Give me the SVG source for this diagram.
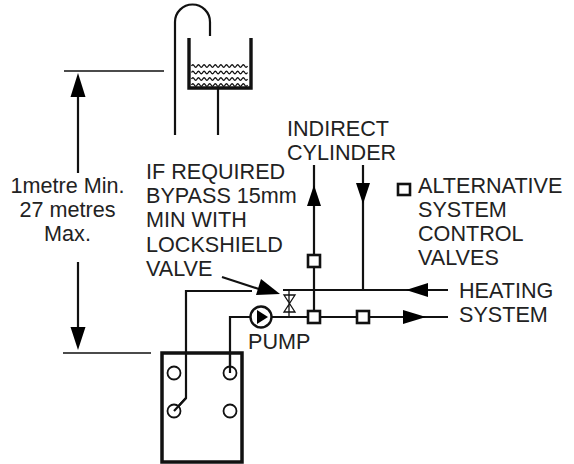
<svg xmlns="http://www.w3.org/2000/svg" width="574" height="464" viewBox="0 0 574 464">
<style>
.l{fill:none;stroke:#111;stroke-width:2.200}
.t{fill:none;stroke:#111;stroke-width:1.300}
.h{fill:#000;stroke:none}
.b{fill:#fff;stroke:#111;stroke-width:2.600}
.c{fill:#fff;stroke:#111;stroke-width:1.800}
.w{fill:none;stroke:#111;stroke-width:1.300}
text{font-family:"Liberation Sans",Arial,sans-serif;font-size:21.600px;fill:#222}
</style>
<defs>
<path id="wave" d="M0 0q1.400 -2.500 2.800 0t2.800 0t2.800 0t2.800 0t2.800 0t2.800 0t2.800 0t2.800 0t2.800 0t2.800 0t2.800 0t2.800 0t2.800 0t2.800 0t2.800 0t2.800 0t2.800 0t2.800 0t2.800 0t2.800 0" class="w"/>
</defs>
<g id="connectors">
<path class="t" d="M64 71H164M63 353H151"/>
<path class="l" d="M78 95V173M78 262V330"/>
<path class="h" d="M78 73L85.500 97H70.500ZM78 350L70.500 327H85.500Z"/>
<path class="l" d="M175 135V22A17.500 17.500 0 0 1 210 22V36"/>
<path class="l" d="M218 88V135"/>
<path class="l" d="M174 411L186 398V291H252"/>
<path class="l" d="M230 373V317H250M272 317H448"/>
<path class="l" d="M283 290H448M314 165V317M363 165V290"/>
<path class="h" d="M314 185L321 206H307ZM363 204L356 183H370ZM406 290L428 283V297ZM426 317L403 310V324Z"/>
<path class="l" d="M222 277L262 290"/>
<path class="h" d="M280 294L256 295L261 279Z"/>
<path class="t" d="M289 290V317M284 295H295L284 312H295Z"/>
</g>
<g id="tank">
<path d="M189 38V88H251V38" fill="none" stroke="#111" stroke-width="3.400"/>
<use href="#wave" x="191.500" y="66"/>
<use href="#wave" x="191.500" y="72.500"/>
<use href="#wave" x="191.500" y="79"/>
<use href="#wave" x="191.500" y="85"/>
</g>
<g id="boiler">
<rect x="162" y="353" width="80" height="109" fill="none" stroke="#111" stroke-width="3.500"/>
<circle class="c" cx="174" cy="373" r="6.500"/>
<circle class="c" cx="230" cy="373" r="6.500"/>
<circle class="c" cx="174" cy="411" r="6.500"/>
<circle class="c" cx="230" cy="411" r="6.500"/>
<path class="l" d="M174 411L186 398M230 373V353"/>
</g>
<g id="pump">
<circle cx="261" cy="317" r="10.500" fill="#fff" stroke="#111" stroke-width="2.400"/>
<path class="h" d="M268 317L257 310V324Z"/>
</g>
<g id="valve-1"><rect class="b" x="308" y="255" width="12" height="12"/></g>
<g id="valve-2"><rect class="b" x="308" y="311" width="12" height="12"/></g>
<g id="valve-3"><rect class="b" x="357" y="311" width="12" height="12"/></g>
<g id="legend-box"><rect class="b" x="398" y="184" width="12" height="11"/></g>
<g id="labels">
<text x="287" y="136">INDIRECT</text>
<text x="287" y="160">CYLINDER</text>
<text x="146" y="179">IF REQUIRED</text>
<text x="146" y="203">BYPASS 15mm</text>
<text x="146" y="227">MIN WITH</text>
<text x="146" y="252">LOCKSHIELD</text>
<text x="146" y="276">VALVE</text>
<text x="418" y="193">ALTERNATIVE</text>
<text x="418" y="217">SYSTEM</text>
<text x="418" y="241">CONTROL</text>
<text x="418" y="265">VALVES</text>
<text x="459" y="298">HEATING</text>
<text x="459" y="322">SYSTEM</text>
<text x="248" y="349">PUMP</text>
<text x="67.500" y="193" text-anchor="middle">1metre Min.</text>
<text x="67.500" y="217" text-anchor="middle">27 metres</text>
<text x="67.500" y="241" text-anchor="middle">Max.</text>
</g>
</svg>
